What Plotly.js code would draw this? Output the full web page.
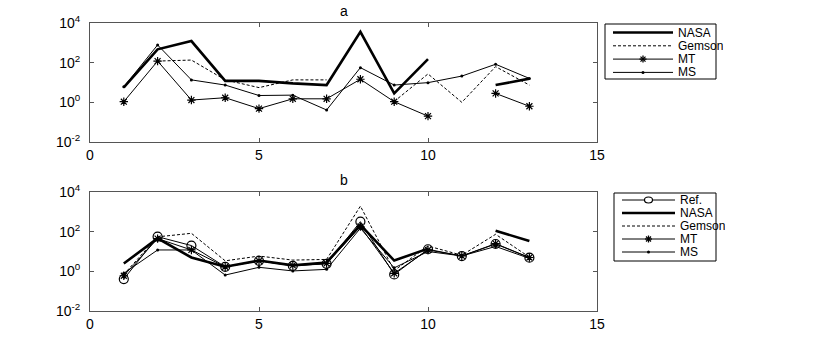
<!DOCTYPE html>
<html>
<head>
<meta charset="utf-8">
<script src="https://cdn.plot.ly/plotly-3.0.1.min.js"></script>
<style>
  body { margin: 0; background: #fff; }
  #chart { width: 830px; height: 346px; }
</style>
</head>
<body>
<div id="chart"></div>
<script>
// case index
let xs = [1, 2, 3, 4, 5, 6, 7, 8, 9, 10, 11, 12, 13]

// panel a
let nasaA   = [5.7, 470, 1230, 12, 12, 9, 7.4, 3600, 2.8, 150, null, 7.4, 15.6]
let gemsonA = [null, 120, 135, 13.5, 5.5, 13.5, 13.5, null, 1.1, 27, 1.0, 63, 7.4]
let mtA     = [1.07, 120, 1.3, 1.7, 0.48, 1.5, 1.5, 14.5, 1.07, 0.2, null, 2.8, 0.63]
let msA     = [6, 780, 13.5, 7.4, 2.2, 2.3, 0.41, 56, 7.4, 9.8, 21, 83, 16]

// panel b
let refB    = [0.41, 56, 20, 1.7, 3.4, 1.9, 2.4, 320, 0.7, 13, 5.9, 24, 4.9]
let nasaB   = [2.5, 46, 5, 1.7, 3.5, 2, 2.8, 220, 3.5, 14, null, 112, 34]
let gemsonB = [0.7, 55, 83, 3.4, 5.9, 3.7, 4, 1950, 1.1, 19, 6.5, 74, 5.2]
let mtB     = [0.6, 45, 12, 1.7, 3.4, 2, 2.5, 180, 0.8, 12, 6, 25, 5]
let msB     = [0.8, 12, 12, 0.65, 1.6, 1.05, 1.26, 150, 1.5, 10, 6, 18, 4.5]

let yTickVals = [0.01, 1, 100, 10000]
let yTickText = ['10<sup>-2</sup>', '10<sup>0</sup>', '10<sup>2</sup>', '10<sup>4</sup>']

let dashStyle = '3px,2px'

function line(name, y, panel, style) {
    let t = {
        x: xs, y: y, name: name, type: 'scatter', mode: 'lines',
        xaxis: panel == 'a' ? 'x' : 'x2',
        yaxis: panel == 'a' ? 'y' : 'y2',
        connectgaps: false, showlegend: false,
        line: { color: '#000', width: 1 },
        meta: style
    }
    if (style == 'thick') t.line.width = 2.6
    if (style == 'dash') t.line.dash = dashStyle
    if (style == 'star') { t.mode = 'lines+markers'; t.marker = { symbol: 'asterisk-open', size: 7, color: '#000', line: { color: '#000', width: 1.2 } } }
    if (style == 'dot') { t.mode = 'lines+markers'; t.marker = { symbol: 'circle', size: 3, color: '#000' } }
    if (style == 'ring') { t.mode = 'lines+markers'; t.marker = { symbol: 'circle-open', size: 9, color: '#000', line: { color: '#000', width: 1.2 } } }
    return t
}

let tracesA = [
    line('NASA', nasaA, 'a', 'thick'),
    line('Gemson', gemsonA, 'a', 'dash'),
    line('MT', mtA, 'a', 'star'),
    line('MS', msA, 'a', 'dot')
]
let tracesB = [
    line('Ref.', refB, 'b', 'ring'),
    line('NASA', nasaB, 'b', 'thick'),
    line('Gemson', gemsonB, 'b', 'dash'),
    line('MT', mtB, 'b', 'star'),
    line('MS', msB, 'b', 'dot')
]

// pixel -> paper coordinates (plot area spans x 90..597, y 23..311)
function px(x) { return (x - 90) / 507 }
function py(y) { return (311 - y) / 288 }

let shapes = []
let annotations = []

// hand made legend box, MATLAB style (tight rows)
function buildLegend(traces, box, lineX0, lineX1, rowY) {
    shapes.push({ type: 'rect', xref: 'paper', yref: 'paper', x0: px(box[0]), x1: px(box[1]), y0: py(box[3]), y1: py(box[2]),
        line: { color: '#000', width: 1 }, fillcolor: '#fff', layer: 'above' })
    traces.forEach((t, i) => {
        let y = py(rowY[i])
        let mid = px((lineX0 + lineX1) / 2)
        shapes.push({ type: 'line', xref: 'paper', yref: 'paper', x0: px(lineX0), x1: px(lineX1), y0: y, y1: y,
            line: { color: '#000', width: t.line.width, dash: t.line.dash || 'solid' }, layer: 'above' })
        if (t.meta == 'ring') {
            shapes.push({ type: 'circle', xref: 'paper', yref: 'paper', xsizemode: 'pixel', ysizemode: 'pixel',
                xanchor: mid, yanchor: y, x0: -4, x1: 4, y0: -3, y1: 3, line: { color: '#000', width: 1.2 }, fillcolor: '#fff', layer: 'above' })
        }
        if (t.meta == 'dot') {
            shapes.push({ type: 'circle', xref: 'paper', yref: 'paper', xsizemode: 'pixel', ysizemode: 'pixel',
                xanchor: mid, yanchor: y, x0: -1.5, x1: 1.5, y0: -1.5, y1: 1.5, line: { width: 0 }, fillcolor: '#000', layer: 'above' })
        }
        if (t.meta == 'star') {
            [[-3.5, 0, 3.5, 0], [0, -3.5, 0, 3.5], [-2.5, -2.5, 2.5, 2.5], [-2.5, 2.5, 2.5, -2.5]].forEach((s) => {
                shapes.push({ type: 'line', xref: 'paper', yref: 'paper', xsizemode: 'pixel', ysizemode: 'pixel',
                    xanchor: mid, yanchor: y, x0: s[0], y0: s[1], x1: s[2], y1: s[3], line: { color: '#000', width: 1.3 }, layer: 'above' })
            })
        }
        annotations.push({ text: t.name, xref: 'paper', yref: 'paper', x: px(lineX1 + 4), y: y,
            xanchor: 'left', yanchor: 'middle', showarrow: false, height: 12, borderpad: 0,
            font: { size: 12, color: '#000' } })
    })
}

buildLegend(tracesA, [605, 716, 24, 79], 613, 673, [32.5, 45.8, 59.1, 72.4])
buildLegend(tracesB, [614, 716, 193, 261], 622, 675, [200, 213, 226, 239, 252])

annotations.push({ text: 'a', xref: 'paper', yref: 'paper', x: 0.5, y: 1.0, yshift: 2, xanchor: 'center', yanchor: 'bottom', showarrow: false, font: { size: 14 } })
annotations.push({ text: 'b', xref: 'paper', yref: 'paper', x: 0.5, y: 0.413, yshift: 2, xanchor: 'center', yanchor: 'bottom', showarrow: false, font: { size: 14 } })

let xAxis = {
    range: [0, 15], tickvals: [0, 5, 10, 15], ticks: 'inside', ticklen: 4,
    showgrid: false, zeroline: false, showline: true, mirror: 'ticks',
    linecolor: '#555', linewidth: 1, tickcolor: '#555',
    tickfont: { size: 14, color: '#000' }
}
let yAxis = {
    type: 'log', range: [-2, 4], tickvals: yTickVals, ticktext: yTickText,
    ticks: 'inside', ticklen: 4, ticklabelstandoff: 6,
    showgrid: false, zeroline: false, showline: true, mirror: 'ticks',
    linecolor: '#555', linewidth: 1, tickcolor: '#555',
    tickfont: { size: 14, color: '#000' }
}

let layout = {
    width: 830, height: 346,
    margin: { l: 90, r: 233, t: 23, b: 35 },
    font: { family: 'Liberation Sans, Arial, sans-serif', color: '#000' },
    paper_bgcolor: '#fff', plot_bgcolor: '#fff',
    xaxis: { ...xAxis, anchor: 'y' },
    yaxis: { ...yAxis, domain: [0.587, 1], anchor: 'x' },
    xaxis2: { ...xAxis, anchor: 'y2' },
    yaxis2: { ...yAxis, domain: [0, 0.413], anchor: 'x2' },
    shapes: shapes,
    annotations: annotations,
    showlegend: false
}

Plotly.newPlot('chart', tracesA.concat(tracesB), layout, { displayModeBar: false, staticPlot: true })
</script>
</body>
</html>
